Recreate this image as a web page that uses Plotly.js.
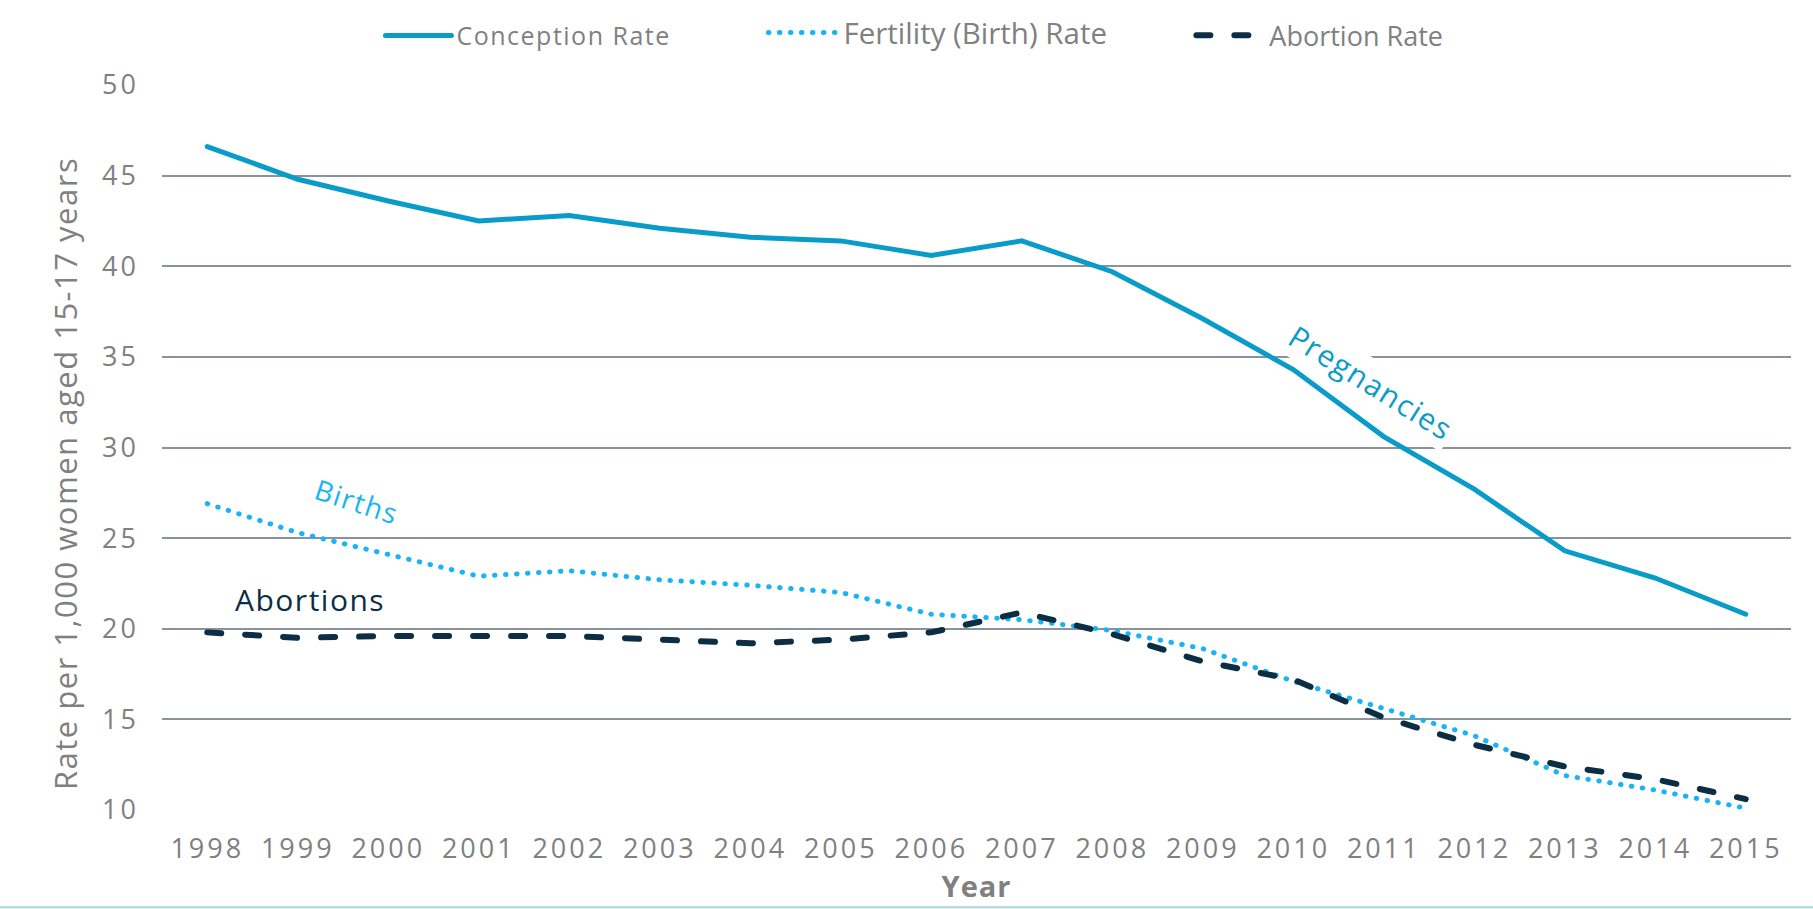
<!DOCTYPE html>
<html>
<head>
<meta charset="utf-8">
<script src="https://cdn.plot.ly/plotly-3.0.1.min.js"></script>
<style>
  html, body { margin: 0; padding: 0; background: #fff; }
  #chart { width: 1813px; height: 909px; }
  .js-line { stroke-linecap: round !important; }
  .xtick text, .ytick text { letter-spacing: 3px; }
  .legendtext { letter-spacing: 1.5px; }
  .g-xtitle text { letter-spacing: 1px; }
  .annotation-text { letter-spacing: 1.5px; }
</style>
</head>
<body>
<div id="chart"></div>
<script>
const years = [1998, 1999, 2000, 2001, 2002, 2003, 2004, 2005, 2006, 2007, 2008, 2009, 2010, 2011, 2012, 2013, 2014, 2015];
const yearLabels = years.map(String);
const conceptionRate = [46.6, 44.8, 43.6, 42.5, 42.8, 42.1, 41.6, 41.4, 40.6, 41.4, 39.7, 37.1, 34.3, 30.6, 27.7, 24.3, 22.8, 20.8];
const fertilityRate  = [26.9, 25.3, 24.1, 22.9, 23.2, 22.7, 22.4, 22.0, 20.8, 20.5, 19.9, 18.9, 17.1, 15.6, 14.1, 11.9, 11.1, 10.1];
const abortionRate   = [19.8, 19.5, 19.6, 19.6, 19.6, 19.4, 19.2, 19.4, 19.8, 20.9, 19.7, 18.2, 17.2, 15.1, 13.6, 12.4, 11.7, 10.6];
const seriesNames = ['Conception Rate', 'Fertility (Birth) Rate', 'Abortion Rate'];
const yTicks = [10, 15, 20, 25, 30, 35, 40, 45, 50];

const cBlue = '#0a9cc8', cLight = '#1ab4f5', cDark = '#0b2e44', grey = '#808080';

const traces = [
  { x: years, y: conceptionRate, name: seriesNames[0], type: 'scatter', mode: 'lines',
    legend: 'legend', line: { color: cBlue, width: 5 } },
  { x: years, y: fertilityRate, name: seriesNames[1], type: 'scatter', mode: 'lines',
    legend: 'legend2', line: { color: cLight, width: 5, dash: '0.5px,10.5px' } },
  { x: years, y: abortionRate, name: seriesNames[2], type: 'scatter', mode: 'lines',
    legend: 'legend3', line: { color: cDark, width: 6, dash: '14px,24px' } }
];

function legendAt(x, y, size, itemwidth) {
  return { orientation: 'h', x: x, xanchor: 'left', y: y, yanchor: 'middle', itemwidth: itemwidth,
    entrywidth: 340, entrywidthmode: 'pixels',
    font: { size: size, color: grey }, bgcolor: 'rgba(0,0,0,0)' };
}

const layout = {
  width: 1813, height: 909,
  margin: { l: 162, r: 22, t: 85, b: 99, autoexpand: false },
  paper_bgcolor: '#fff', plot_bgcolor: '#fff',
  font: { family: '"Open Sans", sans-serif', color: grey },
  showlegend: true,
  legend: legendAt(0.1341, 1.068, 25, 66),
  legend2: legendAt(0.3692, 1.072, 29.5, 70),
  legend3: legendAt(0.6319, 1.068, 27, 68),
  xaxis: {
    range: [1997.5, 2015.5], tickmode: 'array', tickvals: years, ticktext: yearLabels,
    showgrid: false, zeroline: false, showline: false, ticks: '',
    tickfont: { size: 27, color: grey }, ticklabelstandoff: 20,
    title: { text: '<b>Year</b>', font: { size: 29, color: grey }, standoff: 8 }
  },
  yaxis: {
    range: [10, 50], tickmode: 'array', tickvals: yTicks,
    showgrid: true, gridcolor: '#8a939b', gridwidth: 2,
    zeroline: false, showline: false, ticks: '',
    tickfont: { size: 27, color: grey }, ticklabelstandoff: 22
  },
  annotations: [
    { x: -0.0595, y: 0.4634, xref: 'paper', yref: 'paper', xanchor: 'center', yanchor: 'middle',
      text: 'Rate per 1,000 women aged 15-17 years', showarrow: false, textangle: -90,
      font: { size: 31, color: grey } },
    { x: 2010.86, y: 33.6, xref: 'x', yref: 'y', text: 'Pregnancies', showarrow: false,
      textangle: 32, font: { size: 30, color: cBlue }, bgcolor: '#fff' },
    { x: 1999.65, y: 27.05, xref: 'x', yref: 'y', text: 'Births', showarrow: false,
      textangle: 18, font: { size: 28, color: cLight } },
    { x: 1999.14, y: 21.64, xref: 'x', yref: 'y', text: 'Abortions', showarrow: false,
      font: { size: 30, color: cDark } }
  ],
  shapes: [
    { type: 'line', xref: 'paper', yref: 'paper', x0: -0.2, x1: 1.2, y0: -0.134, y1: -0.134,
      line: { color: '#a6d8dc', width: 2 } }
  ]
};

Plotly.newPlot('chart', traces, layout, { staticPlot: true, displayModeBar: false });
</script>
</body>
</html>
